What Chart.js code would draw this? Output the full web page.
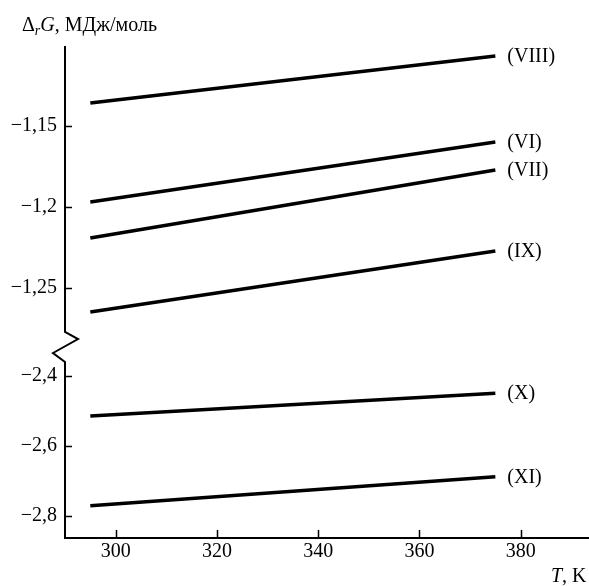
<!DOCTYPE html>
<html>
<head>
<meta charset="utf-8">
<script src="https://cdn.jsdelivr.net/npm/chart.js@4/dist/chart.umd.min.js"></script>
<style>
  html, body { margin: 0; padding: 0; background: #fff; }
  #wrap { width: 589px; height: 586px; }
</style>
</head>
<body>
<div id="wrap"><canvas id="gibbsChart" width="589" height="586"></canvas></div>
<script>
// temperatures, K
var temps = [295, 375];
var xTicks = [300, 320, 340, 360, 380];
var upperTicks = [-1.15, -1.2, -1.25];
var lowerTicks = [-2.4, -2.6, -2.8];

var labels = ['(VIII)', '(VI)', '(VII)', '(IX)', '(X)', '(XI)'];
var s_VIII = [-1.1358, -1.1068];
var s_VI = [-1.1969, -1.1599];
var s_VII = [-1.2191, -1.1772];
var s_IX = [-1.2648, -1.2272];
var s_X = [-2.514, -2.449];
var s_XI = [-2.771, -2.688];

var seriesValues = [s_VIII, s_VI, s_VII, s_IX, s_X, s_XI];
var axisFor = ['yTop', 'yTop', 'yTop', 'yTop', 'yBottom', 'yBottom'];

var FONT = '"Liberation Serif", "DejaVu Serif", serif';

function fmt(v) {
    return String(v).replace('-', '\u2212').replace('.', ',');
}

var _datasets = seriesValues.map(function (vals, i) {
    return {
        label: labels[i],
        yAxisID: axisFor[i],
        data: temps.map(function (t, j) { return { x: t, y: vals[j] }; }),
        borderColor: '#000',
        borderWidth: 3.5,
        pointRadius: 0,
        tension: 0,
        fill: false
    };
});

// axis line with break, inward ticks, titles, series labels
var decorPlugin = {
    id: 'decor',
    afterDraw: function (chart) {
        var ctx = chart.ctx;
        var area = chart.chartArea;
        var ax = area.left;
        var xs = chart.scales.x, yt = chart.scales.yTop, yb = chart.scales.yBottom;
        ctx.save();
        ctx.strokeStyle = '#000';
        ctx.lineWidth = 2;
        ctx.lineJoin = 'miter';

        // y axis with zigzag break
        ctx.beginPath();
        ctx.moveTo(ax, area.top);
        ctx.lineTo(ax, 332);
        ctx.lineTo(ax + 13, 339);
        ctx.lineTo(ax - 12, 353);
        ctx.lineTo(ax, 362);
        ctx.lineTo(ax, area.bottom);
        ctx.stroke();

        // x axis
        ctx.beginPath();
        ctx.moveTo(ax - 1, area.bottom);
        ctx.lineTo(area.right, area.bottom);
        ctx.stroke();

        // inward ticks
        ctx.lineWidth = 1.5;
        ctx.beginPath();
        upperTicks.forEach(function (v) {
            var y = Math.round(yt.getPixelForValue(v)) + 0.5;
            ctx.moveTo(ax, y); ctx.lineTo(ax + 7, y);
        });
        lowerTicks.forEach(function (v) {
            var y = Math.round(yb.getPixelForValue(v)) + 0.5;
            ctx.moveTo(ax, y); ctx.lineTo(ax + 7, y);
        });
        xTicks.forEach(function (v) {
            var x = Math.round(xs.getPixelForValue(v)) + 0.5;
            ctx.moveTo(x, area.bottom); ctx.lineTo(x, area.bottom - 8);
        });
        ctx.stroke();

        // y title: Δ_r G, МДж/моль
        ctx.fillStyle = '#000';
        ctx.textBaseline = 'alphabetic';
        ctx.textAlign = 'left';
        var x = 22, base = 31;
        ctx.font = '20px ' + FONT;
        ctx.fillText('\u0394', x, base); x += ctx.measureText('\u0394').width;
        ctx.font = 'italic 14px ' + FONT;
        ctx.fillText('r', x, base + 4); x += ctx.measureText('r').width;
        ctx.font = 'italic 20px ' + FONT;
        ctx.fillText('G', x, base); x += ctx.measureText('G').width;
        ctx.font = '20px ' + FONT;
        ctx.fillText(', \u041C\u0414\u0436/\u043C\u043E\u043B\u044C', x, base);

        // x title: T, K
        x = 551; base = 582;
        ctx.font = 'italic 20px ' + FONT;
        ctx.fillText('T', x, base); x += ctx.measureText('T').width;
        ctx.font = '20px ' + FONT;
        ctx.fillText(', K', x, base);

        // series labels at line ends
        ctx.font = '20px ' + FONT;
        ctx.textBaseline = 'middle';
        chart.data.datasets.forEach(function (ds, i) {
            var pts = chart.getDatasetMeta(i).data;
            var last = pts[pts.length - 1];
            ctx.fillText(ds.label, last.x + 12, last.y + 1);
        });
        ctx.restore();
    }
};

var tickFont = { family: FONT, size: 20 };

var GibbsChart = new Chart(document.getElementById('gibbsChart'), {
    type: 'line',
    data: { datasets: _datasets },
    options: {
        responsive: false,
        animation: false,
        devicePixelRatio: 1,
        layout: { padding: { top: 46, right: 0, bottom: 0, left: 0 } },
        plugins: { legend: { display: false }, tooltip: { enabled: false } },
        scales: {
            x: {
                type: 'linear',
                min: 290,
                max: 393.5,
                grid: { display: false, drawTicks: false },
                border: { display: false },
                afterBuildTicks: function (s) { s.ticks = xTicks.map(function (v) { return { value: v }; }); },
                afterFit: function (s) { s.height = 48; },
                ticks: { color: '#000', font: tickFont, padding: 2, maxRotation: 0, callback: function (v) { return String(v); } }
            },
            yTop: {
                type: 'linear',
                position: 'left',
                stack: 'v',
                stackWeight: 300,
                weight: 1,
                min: -1.2858,
                max: -1.1006,
                grid: { display: false, drawTicks: false },
                border: { display: false },
                afterBuildTicks: function (s) { s.ticks = upperTicks.map(function (v) { return { value: v }; }); },
                afterFit: function (s) { s.width = 65; },
                ticks: { color: '#000', font: tickFont, padding: 8, callback: fmt }
            },
            yBottom: {
                type: 'linear',
                position: 'left',
                stack: 'v',
                stackWeight: 192,
                weight: 0,
                min: -2.8629,
                max: -2.3143,
                grid: { display: false, drawTicks: false },
                border: { display: false },
                afterBuildTicks: function (s) { s.ticks = lowerTicks.map(function (v) { return { value: v }; }); },
                afterFit: function (s) { s.width = 65; },
                ticks: { color: '#000', font: tickFont, padding: 8, callback: fmt }
            }
        }
    },
    plugins: [decorPlugin]
});
</script>
</body>
</html>
